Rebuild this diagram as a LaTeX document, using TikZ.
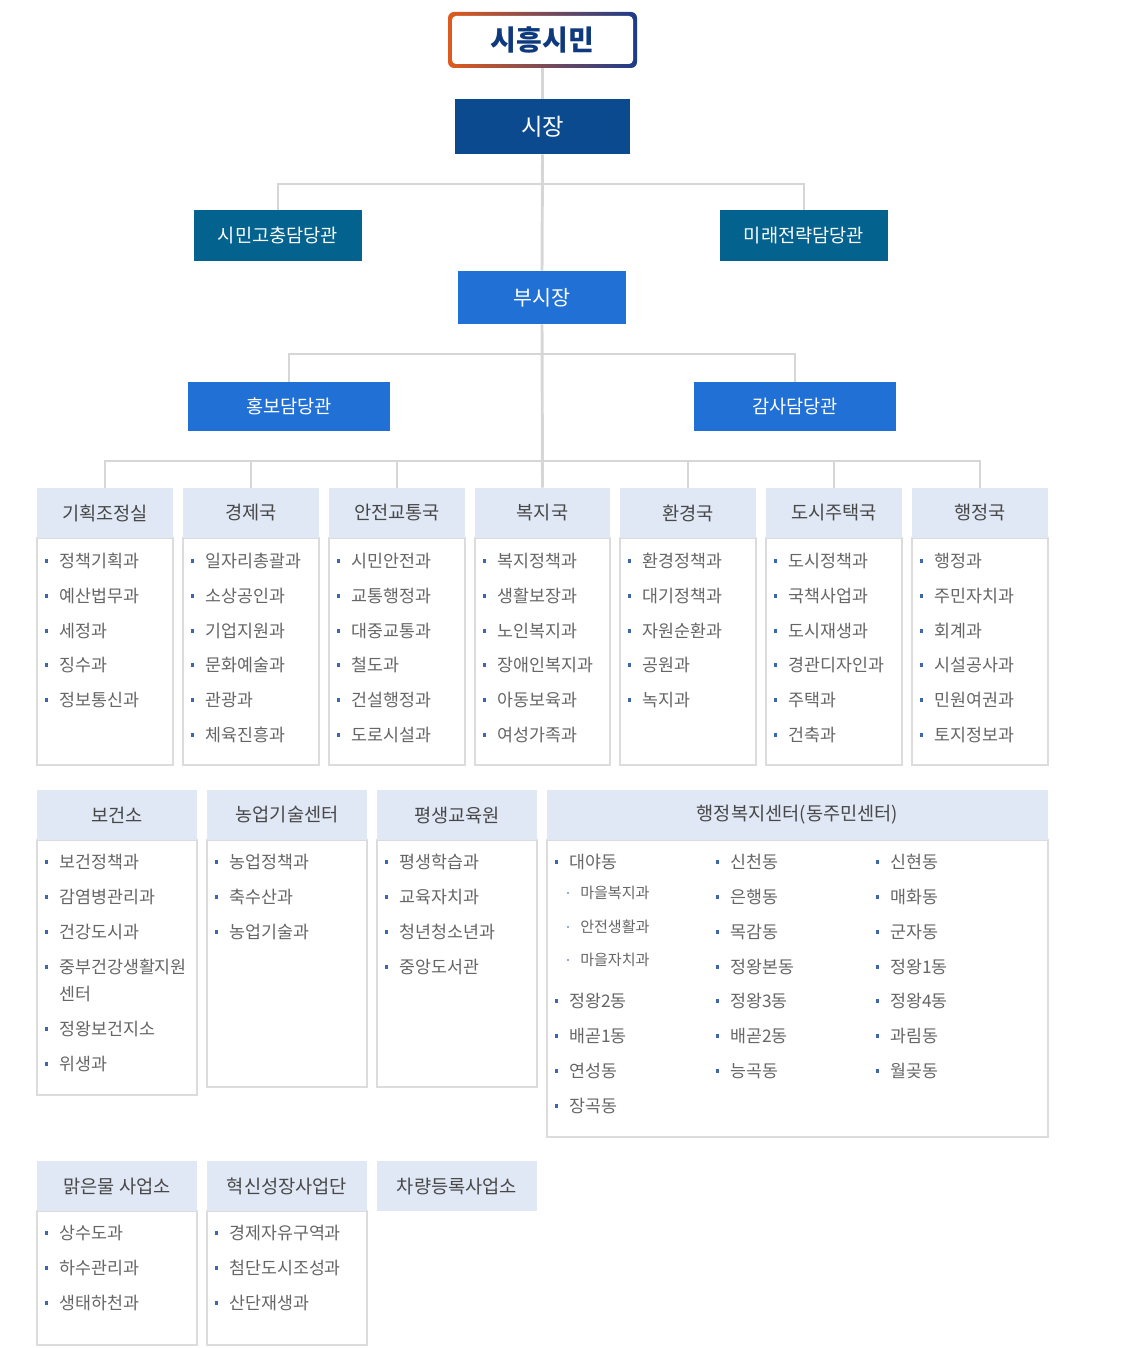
\documentclass[tikz,border=0pt]{standalone}
\usepackage{fontspec}
\setmainfont{Noto Sans CJK KR}
\usepackage{xcolor}
\definecolor{navy}{RGB}{11,74,143}
\definecolor{teal}{RGB}{4,98,143}
\definecolor{bright}{RGB}{33,112,214}
\definecolor{headbg}{RGB}{224,231,245}
\definecolor{wiregray}{RGB}{214,214,214}
\definecolor{boxgray}{RGB}{220,220,220}
\definecolor{itemtext}{RGB}{102,102,102}
\definecolor{headtext}{RGB}{72,72,72}
\definecolor{dot}{RGB}{62,102,170}
\definecolor{citytext}{RGB}{14,58,125}
\definecolor{rimleft}{RGB}{222,90,30}
\definecolor{rimright}{RGB}{28,60,140}

\begin{document}
\begin{tikzpicture}[x=0.75pt,y=-0.75pt,line cap=butt,
  wd/.style={minimum width=#1*0.75pt},
  ht/.style={minimum height=#1*0.75pt},
  wire/.style={draw=wiregray,line width=2.2pt},
  topbox/.style={fill=#1,text=white,inner sep=0pt,font=\fontsize{14}{16}\selectfont},
  head/.style={fill=headbg,text=headtext,inner sep=0pt,minimum height=37.5pt,font=\fontsize{14}{16}\selectfont},
  body/.style={draw=boxgray,fill=white,line width=0.9pt},
  item/.style={anchor=west,inner sep=0pt,text=itemtext,font=\fontsize{13}{15}\selectfont,
    label={[fill=dot,inner sep=0pt,minimum size=2.3pt,xshift=-7.8pt]left:{}}},
  sub/.style={anchor=west,inner sep=0pt,text=itemtext,font=\fontsize{11.3}{13}\selectfont,
    label={[fill=dot!55,inner sep=0pt,minimum size=1.7pt,xshift=-8.2pt]left:{}}},
  wrap/.style={anchor=west,inner sep=0pt,text=itemtext,font=\fontsize{13}{15}\selectfont}]
\useasboundingbox (0,0) rectangle (1132,1348);

% top of the chart
\shade[left color=rimleft,right color=rimright,rounded corners=4.5pt] (448,12) rectangle (637,68);
\fill[white,rounded corners=3pt] (452,16) rectangle (633,64);
\node[wd=189,ht=56,inner sep=0pt,text=citytext,font=\fontsize{21}{24}\selectfont\bfseries] (city) at (542.5,40) {시흥시민};
\node[topbox=navy,wd=175,ht=55,font=\fontsize{17.5}{20}\selectfont] (mayor) at (542.5,126.5) {시장};
\node[topbox=teal,wd=168,ht=51] (grief) at (278,235.5) {시민고충담당관};
\node[topbox=teal,wd=168,ht=51] (future) at (804,235.5) {미래전략담당관};
\node[topbox=bright,wd=168,ht=53,font=\fontsize{15.5}{18}\selectfont] (vice) at (542,297.5) {부시장};
\node[topbox=bright,wd=202,ht=49] (promo) at (289,406.5) {홍보담당관};
\node[topbox=bright,wd=202,ht=49] (audit) at (795,406.5) {감사담당관};

% first row of offices
\draw[body] (37,538) rectangle (173,765);
\draw[body] (183,538) rectangle (319,765);
\draw[body] (329,538) rectangle (465,765);
\draw[body] (475,538) rectangle (610,765);
\draw[body] (620,538) rectangle (756,765);
\draw[body] (766,538) rectangle (902,765);
\draw[body] (912,538) rectangle (1048,765);
\node[head,wd=136] (plan) at (105,513) {기획조정실};
\node[head,wd=136] (econ) at (251,513) {경제국};
\node[head,wd=136] (safe) at (397,513) {안전교통국};
\node[head,wd=135] (welf) at (542.5,513) {복지국};
\node[head,wd=136] (envi) at (688,513) {환경국};
\node[head,wd=136] (city2) at (834,513) {도시주택국};
\node[head,wd=136] (admin) at (980,513) {행정국};

\node[item] (p1) at (59,561) {정책기획과};
\node[item] (p2) at (59,596) {예산법무과};
\node[item] (p3) at (59,631) {세정과};
\node[item] (p4) at (59,665) {징수과};
\node[item] (p5) at (59,700) {정보통신과};

\node[item] (e1) at (205,561) {일자리총괄과};
\node[item] (e2) at (205,596) {소상공인과};
\node[item] (e3) at (205,631) {기업지원과};
\node[item] (e4) at (205,665) {문화예술과};
\node[item] (e5) at (205,700) {관광과};
\node[item] (e6) at (205,735) {체육진흥과};

\node[item] (s1) at (351,561) {시민안전과};
\node[item] (s2) at (351,596) {교통행정과};
\node[item] (s3) at (351,631) {대중교통과};
\node[item] (s4) at (351,665) {철도과};
\node[item] (s5) at (351,700) {건설행정과};
\node[item] (s6) at (351,735) {도로시설과};

\node[item] (w1) at (497,561) {복지정책과};
\node[item] (w2) at (497,596) {생활보장과};
\node[item] (w3) at (497,631) {노인복지과};
\node[item] (w4) at (497,665) {장애인복지과};
\node[item] (w5) at (497,700) {아동보육과};
\node[item] (w6) at (497,735) {여성가족과};

\node[item] (v1) at (642,561) {환경정책과};
\node[item] (v2) at (642,596) {대기정책과};
\node[item] (v3) at (642,631) {자원순환과};
\node[item] (v4) at (642,665) {공원과};
\node[item] (v5) at (642,700) {녹지과};

\node[item] (u1) at (788,561) {도시정책과};
\node[item] (u2) at (788,596) {국책사업과};
\node[item] (u3) at (788,631) {도시재생과};
\node[item] (u4) at (788,665) {경관디자인과};
\node[item] (u5) at (788,700) {주택과};
\node[item] (u6) at (788,735) {건축과};

\node[item] (a1) at (934,561) {행정과};
\node[item] (a2) at (934,596) {주민자치과};
\node[item] (a3) at (934,631) {회계과};
\node[item] (a4) at (934,665) {시설공사과};
\node[item] (a5) at (934,700) {민원여권과};
\node[item] (a6) at (934,735) {토지정보과};

% connectors
\draw[wire] (city.south) -- (mayor.north);
\draw[wire] (mayor.south) -- (vice.north);
\draw[wire] (vice.south) -- (welf.north);
\coordinate (j1) at (542.5,184);
\coordinate (j2) at (542.5,354);
\coordinate (j3) at (542.5,461);
\draw[wire] (j1) -| (grief.north);
\draw[wire] (j1) -| (future.north);
\draw[wire] (j2) -| (promo.north);
\draw[wire] (j2) -| (audit.north);
\draw[wire] (j3) -| (plan.north);
\draw[wire] (j3) -| (econ.north);
\draw[wire] (j3) -| (safe.north);
\draw[wire] (j3) -| (envi.north);
\draw[wire] (j3) -| (city2.north);
\draw[wire] (j3) -| (admin.north);

% second row
\draw[body] (37,840) rectangle (197,1095);
\draw[body] (207,840) rectangle (367,1087);
\draw[body] (377,840) rectangle (537,1087);
\draw[body] (547,840) rectangle (1048,1137);
\node[head,wd=160] (health) at (117,815) {보건소};
\node[head,wd=160] (farm) at (287,815) {농업기술센터};
\node[head,wd=160] (learn) at (457,815) {평생교육원};
\node[head,wd=501] (dong) at (797.5,815) {행정복지센터(동주민센터)};

\node[item] (h1) at (59,862) {보건정책과};
\node[item] (h2) at (59,897) {감염병관리과};
\node[item] (h3) at (59,932) {건강도시과};
\node[item] (h4) at (59,967) {중부건강생활지원};
\node[wrap] (h4b) at (59,994) {센터};
\node[item] (h5) at (59,1029) {정왕보건지소};
\node[item] (h6) at (59,1064) {위생과};

\node[item] (f1) at (229,862) {농업정책과};
\node[item] (f2) at (229,897) {축수산과};
\node[item] (f3) at (229,932) {농업기술과};

\node[item] (l1) at (399,862) {평생학습과};
\node[item] (l2) at (399,897) {교육자치과};
\node[item] (l3) at (399,932) {청년청소년과};
\node[item] (l4) at (399,967) {중앙도서관};

\node[item] (d1) at (569,862) {대야동};
\node[sub] (d1a) at (580,893) {마을복지과};
\node[sub] (d1b) at (580,927) {안전생활과};
\node[sub] (d1c) at (580,960) {마을자치과};
\node[item] (d2) at (569,1001) {정왕2동};
\node[item] (d3) at (569,1036) {배곧1동};
\node[item] (d4) at (569,1071) {연성동};
\node[item] (d5) at (569,1106) {장곡동};

\node[item] (d6) at (730,862) {신천동};
\node[item] (d7) at (730,897) {은행동};
\node[item] (d8) at (730,932) {목감동};
\node[item] (d9) at (730,967) {정왕본동};
\node[item] (d10) at (730,1001) {정왕3동};
\node[item] (d11) at (730,1036) {배곧2동};
\node[item] (d12) at (730,1071) {능곡동};

\node[item] (d13) at (890,862) {신현동};
\node[item] (d14) at (890,897) {매화동};
\node[item] (d15) at (890,932) {군자동};
\node[item] (d16) at (890,967) {정왕1동};
\node[item] (d17) at (890,1001) {정왕4동};
\node[item] (d18) at (890,1036) {과림동};
\node[item] (d19) at (890,1071) {월곶동};

% third row
\draw[body] (37,1211) rectangle (197,1345);
\draw[body] (207,1211) rectangle (367,1345);
\node[head,wd=160] (water) at (117,1186) {맑은물 사업소};
\node[head,wd=160] (grow) at (287,1186) {혁신성장사업단};
\node[head,wd=160] (car) at (457,1186) {차량등록사업소};

\node[item] (r1) at (59,1233) {상수도과};
\node[item] (r2) at (59,1268) {하수관리과};
\node[item] (r3) at (59,1303) {생태하천과};

\node[item] (g1) at (229,1233) {경제자유구역과};
\node[item] (g2) at (229,1268) {첨단도시조성과};
\node[item] (g3) at (229,1303) {산단재생과};
\end{tikzpicture}
\end{document}
